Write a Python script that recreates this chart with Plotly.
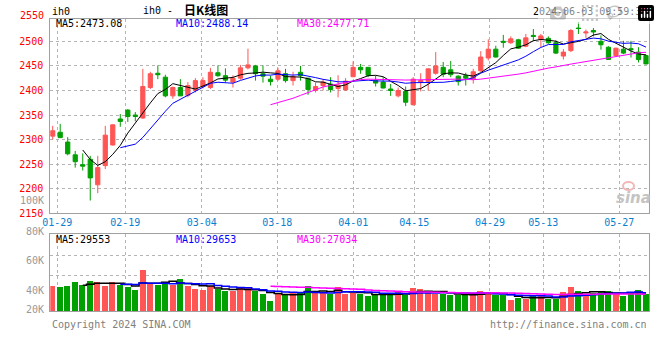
import plotly.graph_objects as go
import pandas as pd

W, H = 660, 360

# ---------------- data ----------------
opens = [2307, 2315, 2295, 2269, 2249, 2260, 2208, 2247, 2289, 2342,
         2360, 2350, 2344, 2406, 2435, 2427, 2389, 2406, 2390, 2400,
         2408, 2406, 2436, 2430, 2417, 2425, 2446, 2450, 2434, 2423,
         2423, 2434, 2420, 2437, 2425, 2400, 2410, 2413, 2404, 2401,
         2428, 2447, 2447, 2420, 2417, 2403, 2389, 2398, 2371, 2417,
         2418, 2435, 2447, 2442, 2429, 2430, 2423, 2440, 2466, 2484,
         2500, 2497, 2503, 2490, 2512, 2504, 2506, 2497, 2470, 2481,
         2527, 2517, 2522, 2500, 2488, 2471, 2484, 2485, 2478, 2471]
highs = [2328, 2332, 2305, 2277, 2272, 2267, 2267, 2328, 2331, 2352,
         2362, 2356, 2444, 2438, 2451, 2432, 2408, 2423, 2417, 2425,
         2427, 2446, 2451, 2445, 2431, 2452, 2485, 2452, 2451, 2430,
         2446, 2444, 2438, 2450, 2425, 2416, 2423, 2427, 2431, 2425,
         2459, 2454, 2447, 2430, 2427, 2413, 2406, 2408, 2427, 2435,
         2445, 2478, 2458, 2460, 2431, 2436, 2444, 2480, 2504, 2491,
         2513, 2510, 2505, 2515, 2525, 2515, 2510, 2502, 2484, 2525,
         2539, 2524, 2527, 2512, 2490, 2487, 2501, 2501, 2488, 2473]
lows = [2300, 2303, 2268, 2243, 2237, 2176, 2191, 2240, 2288, 2326,
        2336, 2337, 2342, 2403, 2423, 2386, 2383, 2389, 2386, 2396,
        2404, 2403, 2428, 2416, 2406, 2422, 2443, 2420, 2416, 2410,
        2420, 2416, 2410, 2420, 2391, 2396, 2400, 2396, 2386, 2399,
        2427, 2434, 2427, 2408, 2404, 2389, 2386, 2368, 2369, 2398,
        2400, 2432, 2427, 2427, 2410, 2410, 2414, 2438, 2461, 2467,
        2487, 2495, 2485, 2488, 2500, 2488, 2495, 2474, 2463, 2478,
        2515, 2507, 2510, 2483, 2462, 2470, 2474, 2467, 2457, 2453]
closes = [2318, 2304, 2271, 2255, 2246, 2222, 2243, 2309, 2330, 2337,
          2347, 2347, 2408, 2434, 2432, 2389, 2406, 2389, 2410, 2420,
          2420, 2437, 2430, 2421, 2425, 2446, 2452, 2434, 2429, 2418,
          2440, 2420, 2428, 2430, 2402, 2408, 2417, 2402, 2411, 2419,
          2447, 2442, 2431, 2415, 2405, 2400, 2400, 2376, 2423, 2420,
          2444, 2450, 2433, 2432, 2418, 2425, 2438, 2468, 2484, 2468,
          2498, 2505, 2486, 2507, 2510, 2511, 2497, 2476, 2478, 2522,
          2526, 2519, 2519, 2493, 2463, 2486, 2476, 2483, 2463, 2454]
# volume, in thousands (K) on the chart's own volume scale
volumes = [43.2, 42.5, 43.2, 45.9, 43.8, 46.5, 45.9, 43.2, 45.9, 43.8,
           42.5, 40.5, 53.5, 45.2, 43.8, 45.2, 43.8, 47.9, 43.2, 41.1,
           40.5, 43.2, 41.1, 39.8, 39.8, 41.8, 41.8, 39.8, 37.8, 33.1,
           38.4, 37.8, 39.1, 38.4, 43.2, 39.1, 39.1, 37.8, 42.5, 37.8,
           38.4, 37.8, 36.4, 37.1, 37.1, 38.4, 39.1, 37.1, 41.8, 41.1,
           39.1, 37.8, 37.8, 37.1, 37.1, 37.1, 37.1, 39.8, 39.1, 37.1,
           37.1, 33.7, 34.6, 34.4, 36.4, 36.9, 34.4, 34.4, 39.1, 42.5,
           39.8, 37.1, 38.0, 39.1, 39.8, 38.4, 36.4, 39.1, 40.5, 37.8]

date_tick_pos = [0.61, 9.67, 19.84, 29.91, 40.03, 48.15, 58.22, 65.32, 75.44]
date_tick_labels = ["01-29", "02-19", "03-04", "03-18", "04-01",
                    "04-15", "04-29", "05-13", "05-27"]
price_ticks = [2150, 2200, 2250, 2300, 2350, 2400, 2450, 2500]
vol_grid = [50.4, 63.6]
vol_labels = ["100K", "80K", "60K", "40K", "20K"]
price_header = ["MA5:2473.08", "MA10:2488.14", "MA30:2477.71"]
vol_header = ["MA5:29553", "MA10:29653", "MA30:27034"]

# ---------------- derived ----------------
idx = list(range(len(closes)))
cs = pd.Series(closes, dtype=float)
vs = pd.Series(volumes, dtype=float)
ma5, ma10, ma30 = (cs.rolling(n).mean() for n in (5, 10, 30))
vma5, vma10, vma30 = (vs.rolling(n).mean() for n in (5, 10, 30))

RED = "#ff5555"
GREEN = "#00a000"
vol_colors = [RED if c >= o else GREEN for o, c in zip(opens, closes)]

def px(x):
    return x / W

def py(y):
    return 1 - y / H

fig = go.Figure()

fig.add_trace(go.Candlestick(
    x=idx, open=opens, high=highs, low=lows, close=closes,
    increasing=dict(line=dict(color=RED, width=1), fillcolor=RED),
    decreasing=dict(line=dict(color=GREEN, width=1), fillcolor=GREEN),
    whiskerwidth=0, showlegend=False, xaxis="x", yaxis="y"))

for s, col in ((ma5, "#000000"), (ma10, "#0000ff"), (ma30, "#ff00ff")):
    fig.add_trace(go.Scatter(x=idx, y=s, mode="lines",
                             line=dict(color=col, width=1),
                             showlegend=False, xaxis="x", yaxis="y"))

fig.add_trace(go.Bar(x=idx, y=volumes, marker=dict(color=vol_colors, line=dict(width=0)),
                     width=0.8, showlegend=False, xaxis="x2", yaxis="y2"))
for s, col in ((vma5, "#000000"), (vma10, "#0000ff"), (vma30, "#ff00ff")):
    fig.add_trace(go.Scatter(x=idx, y=s, mode="lines", line_shape="hvh",
                             line=dict(color=col, width=1.5),
                             showlegend=False, xaxis="x2", yaxis="y2"))

FRAME = "#a0a0a0"
GRID = "#b4b4b4"
xdom = [px(50.3), px(649.3)]
xr = [-0.32, 79.44]

common = dict(showgrid=True, gridcolor=GRID, griddash="dot", gridwidth=1,
              showline=True, mirror=True, linecolor=FRAME, linewidth=1,
              zeroline=False, fixedrange=True, automargin=False, ticks="")

fig.update_layout(
    width=W, height=H, autosize=False,
    margin=dict(l=0, r=0, t=0, b=0, autoexpand=False),
    paper_bgcolor="white", plot_bgcolor="white",
    boxgap=0.2,
    bargap=0,
    xaxis=dict(domain=xdom, range=xr, anchor="y",
               tickmode="array", tickvals=date_tick_pos, ticktext=date_tick_labels,
               tickfont=dict(family="DejaVu Sans Mono", size=10, color="#0a7fd0"),
               rangeslider=dict(visible=False), **common),
    yaxis=dict(domain=[py(213.3), py(19)], range=[2150, 2545.4], anchor="x",
               tickmode="array", tickvals=price_ticks,
               ticktext=[str(t) for t in price_ticks],
               tickfont=dict(family="DejaVu Sans Mono", size=10, color="#ff0000"),
               ticklabelstandoff=4, **common),
    xaxis2=dict(domain=xdom, range=xr, anchor="y2",
                tickmode="array", tickvals=date_tick_pos, showticklabels=False,
                **common),
    yaxis2=dict(domain=[py(311), py(234.3)], range=[26.31, 78.04], anchor="x2",
                tickmode="array", tickvals=vol_grid, showticklabels=False,
                **common),
)

MONO = "DejaVu Sans Mono"
ann = []

def add(text, x, y, color="#000", size=10, xanchor="left", family=MONO, **kw):
    ann.append(dict(text=text, x=px(x), y=py(y), xref="paper", yref="paper",
                    xanchor=xanchor, yanchor="middle", showarrow=False,
                    font=dict(family=family, size=size, color=color, **kw)))

# top texts
add("2550", 46, 16, color="#ff0000", size=10, xanchor="right")
add("ih0", 50, 12, size=10)
add("ih0 -", 141, 10, size=10)
add("日K线图", 182, 9, size=12, family="Noto Sans CJK SC", weight="bold")
add("2024-06-03 09:59:32", 649, 12, size=10, xanchor="right")
add(price_header[0], 54, 24, color="#000000")
add(price_header[1], 174, 24, color="#0000ff")
add(price_header[2], 295, 24, color="#ff00ff")
# volume panel texts
vol_label_y = [200.5, 231, 260.7, 290.3, 309]
for t, y in zip(vol_labels, vol_label_y):
    add(t, 46, y, color="#999999", size=10, xanchor="right")
add(vol_header[0], 54, 239, color="#000000")
add(vol_header[1], 174, 239, color="#0000ff")
add(vol_header[2], 295, 239, color="#ff00ff")
# footer
add("Copyright 2024 SINA.COM", 50, 324, color="#808080", size=10)
add("http://finance.sina.com.cn", 649, 324, color="#808080", size=10, xanchor="right")
# watermark
add("sina", 633, 198, color="#c4c4c4", size=15, xanchor="center",
    family="DejaVu Sans", style="italic", weight="bold")

fig.update_layout(annotations=ann)
fig.add_shape(type="circle", xref="paper", yref="paper",
              x0=px(623), x1=px(634), y0=py(190), y1=py(182),
              line=dict(color="#f2b8b8", width=2))

fig.write_html("out.html",
               post_script="document.body.style.margin='0';document.body.style.padding='0';")
